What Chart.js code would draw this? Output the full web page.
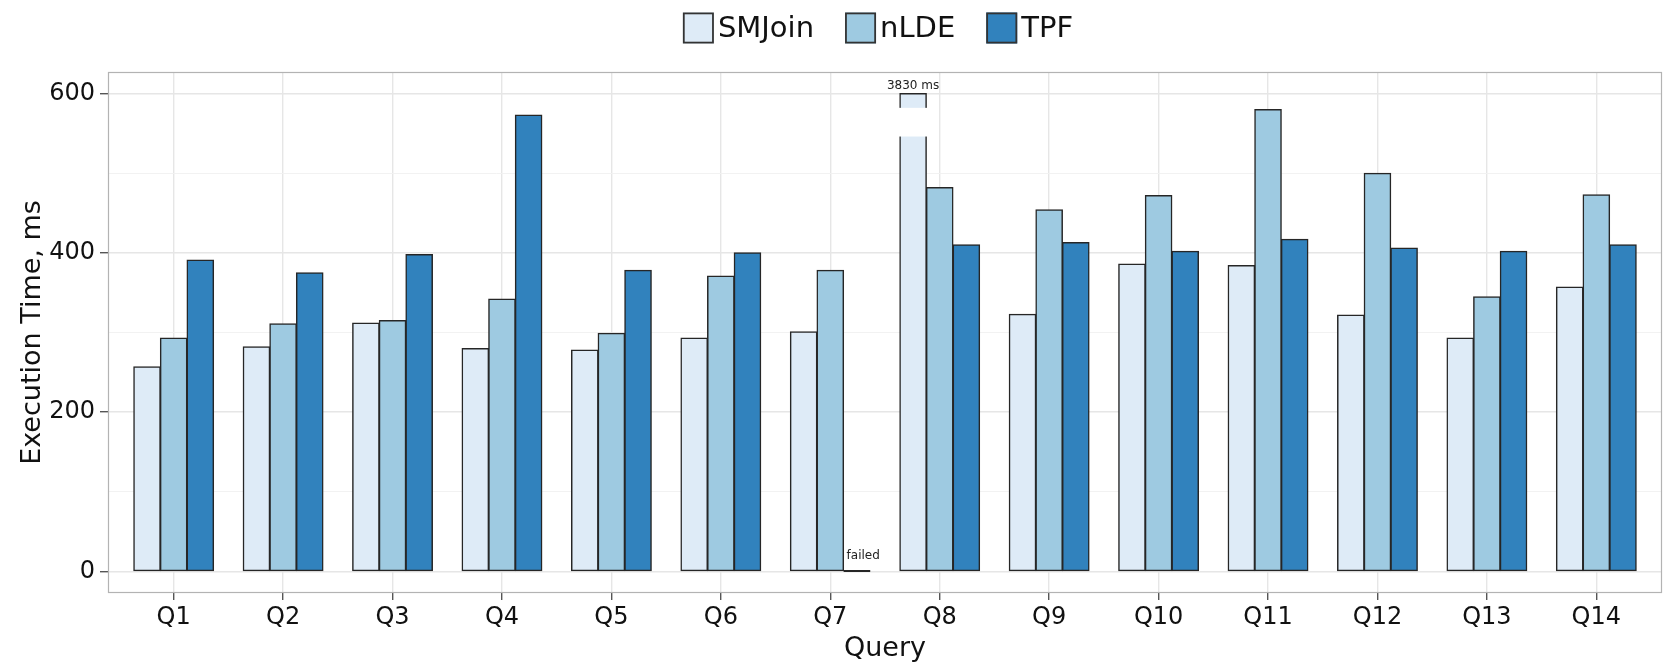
<!DOCTYPE html>
<html>
<head>
<meta charset="utf-8">
<title>Execution time per query</title>
<script src="https://cdn.jsdelivr.net/npm/chart.js@4.4.1/dist/chart.umd.min.js"></script>
<style>
  html, body { margin: 0; padding: 0; background: #ffffff; }
  #wrap { width: 1669px; height: 665px; }
</style>
</head>
<body>
<div id="wrap"><canvas id="chart" width="1669" height="665"></canvas></div>
<script>
// Execution times (ms) per query for the three engines
const queries   = ['Q1', 'Q2', 'Q3', 'Q4', 'Q5', 'Q6', 'Q7', 'Q8', 'Q9', 'Q10', 'Q11', 'Q12', 'Q13', 'Q14'];
const smjoinMs  = [257, 282, 312, 280, 278, 293, 301, 3830, 323, 386, 384, 322, 293, 357];
const nldeMs    = [293, 311, 315, 342, 299, 371, 378, 482, 454, 472, 580, 500, 345, 473];
const tpfMs     = [391, 375, 398, 573, 378, 400, 0, 410, 413, 402, 417, 406, 402, 410];
const tpfFailed = ['Q7'];

const yTickValues  = [0, 200, 400, 600];
const yMinorValues = [100, 300, 500];

// Bars taller than the axis cap are cut, broken and labelled with their real time
const axisCap = 600;
const breakFrom = 546;
const breakTo = 582;

const FONT = '"DejaVu Sans", "Liberation Sans", Arial, sans-serif';
const TEXT = '#111111';

const series = [
  { label: 'SMJoin', values: smjoinMs, failed: [],        color: '#deebf7' },
  { label: 'nLDE',   values: nldeMs,   failed: [],        color: '#9ecae1' },
  { label: 'TPF',    values: tpfMs,    failed: tpfFailed, color: '#3182bd' }
];

const datasets = series.map(s => ({
  label: s.label,
  data: s.values.map((v, i) => ({ x: i + 1, y: Math.min(v, axisCap) })),
  rawValues: s.values,
  failedQueries: s.failed,
  backgroundColor: s.color,
  borderColor: '#262626',
  borderWidth: 1.5,
  borderSkipped: false,
  inflateAmount: 0.5,
  categoryPercentage: 0.73,
  barPercentage: 1.0
}));

// Panel frame around the plotting area
const panelFrame = {
  id: 'panelFrame',
  beforeDatasetsDraw(chart) {
    const { ctx, chartArea: a } = chart;
    ctx.save();
    ctx.strokeStyle = '#b3b3b3';
    ctx.lineWidth = 1.2;
    ctx.strokeRect(a.left + 0.5, a.top + 0.5, a.right - a.left - 1, a.bottom - a.top - 1);
    ctx.restore();
  }
};

// Cut bars above the cap, and mark failed runs
const barNotes = {
  id: 'barNotes',
  afterDatasetsDraw(chart) {
    const { ctx, scales: { y } } = chart;
    ctx.save();
    chart.data.datasets.forEach((ds, di) => {
      const meta = chart.getDatasetMeta(di);
      meta.data.forEach((bar, i) => {
        const p = bar.getProps(['x', 'y', 'base', 'width'], true);
        const raw = ds.rawValues[i];
        if (raw > axisCap) {
          const gTop = y.getPixelForValue(breakTo);
          const gBot = y.getPixelForValue(breakFrom);
          ctx.fillStyle = '#ffffff';
          ctx.fillRect(p.x - p.width / 2 - 2, gTop, p.width + 4, gBot - gTop);
          ctx.fillStyle = '#222222';
          ctx.font = '12px ' + FONT;
          ctx.textAlign = 'center';
          ctx.textBaseline = 'alphabetic';
          ctx.fillText(raw + ' ms', p.x, p.y - 5);
        }
        if (ds.failedQueries.includes(queries[i])) {
          ctx.strokeStyle = '#262626';
          ctx.lineWidth = 2;
          ctx.beginPath();
          ctx.moveTo(p.x - p.width / 2, p.base - 0.5);
          ctx.lineTo(p.x + p.width / 2, p.base - 0.5);
          ctx.stroke();
          ctx.fillStyle = '#222222';
          ctx.font = '12px ' + FONT;
          ctx.textAlign = 'left';
          ctx.textBaseline = 'alphabetic';
          ctx.fillText('failed', p.x - p.width / 2 + 3, p.base - 12);
        }
      });
    });
    ctx.restore();
  }
};

// Legend row above the panel
const legendRow = {
  id: 'legendRow',
  afterDraw(chart) {
    const { ctx } = chart;
    const box = 31, gapText = 4, gapItem = 31, centerX = 878, centerY = 28;
    ctx.save();
    ctx.font = '29px ' + FONT;
    const items = chart.data.datasets.map(ds => ({
      label: ds.label, color: ds.backgroundColor, w: ctx.measureText(ds.label).width
    }));
    const total = items.reduce((s, it) => s + box + gapText + it.w, 0) + gapItem * (items.length - 1);
    let x = centerX - total / 2;
    items.forEach(it => {
      ctx.fillStyle = it.color;
      ctx.fillRect(x, centerY - box / 2, box, box);
      ctx.strokeStyle = '#333333';
      ctx.lineWidth = 1.8;
      ctx.strokeRect(x + 0.9, centerY - box / 2 + 0.9, box - 1.8, box - 1.8);
      ctx.fillStyle = TEXT;
      ctx.textAlign = 'left';
      ctx.textBaseline = 'middle';
      ctx.fillText(it.label, x + box + gapText, centerY + 1);
      x += box + gapText + it.w + gapItem;
    });
    ctx.restore();
  }
};

new Chart(document.getElementById('chart'), {
  type: 'bar',
  data: { datasets },
  plugins: [panelFrame, barNotes, legendRow],
  options: {
    responsive: false,
    animation: false,
    devicePixelRatio: 1,
    layout: { padding: { top: 72, right: 7, left: 0, bottom: 0 } },
    plugins: {
      legend: { display: false },
      tooltip: { enabled: false }
    },
    scales: {
      x: {
        type: 'linear',
        offset: false,
        min: 0.4,
        max: 14.6,
        afterBuildTicks: s => { s.ticks = queries.map((q, i) => ({ value: i + 1 })); },
        afterFit: s => { s.height = 72; },
        ticks: {
          callback: v => queries[v - 1] ?? '',
          font: { family: FONT, size: 24 },
          color: TEXT,
          padding: 3,
          maxRotation: 0,
          autoSkip: false
        },
        grid: { offset: false, color: '#e6e6e6', lineWidth: 1.4, tickColor: '#555555', tickLength: 7 },
        border: { display: false },
        title: {
          display: true,
          text: 'Query',
          font: { family: FONT, size: 27 },
          color: TEXT,
          padding: { top: 0, bottom: 0 }
        }
      },
      y: {
        min: -27,
        max: 627,
        afterBuildTicks: s => {
          s.ticks = yTickValues.concat(yMinorValues).sort((a, b) => a - b).map(v => ({ value: v }));
        },
        afterFit: s => { s.width = 108; },
        ticks: {
          callback: v => yTickValues.includes(v) ? String(v) : '',
          font: { family: FONT, size: 24 },
          color: TEXT,
          padding: 5
        },
        grid: {
          color: c => yMinorValues.includes(c.tick && c.tick.value) ? '#f1f1f1' : '#e6e6e6',
          lineWidth: c => yMinorValues.includes(c.tick && c.tick.value) ? 0.9 : 1.4,
          tickColor: c => yMinorValues.includes(c.tick && c.tick.value) ? 'rgba(0,0,0,0)' : '#555555',
          tickLength: 8
        },
        border: { display: false },
        title: {
          display: true,
          text: 'Execution Time, ms',
          font: { family: FONT, size: 27 },
          color: TEXT,
          padding: { top: 17, bottom: 0 }
        }
      }
    }
  }
});
</script>
</body>
</html>
